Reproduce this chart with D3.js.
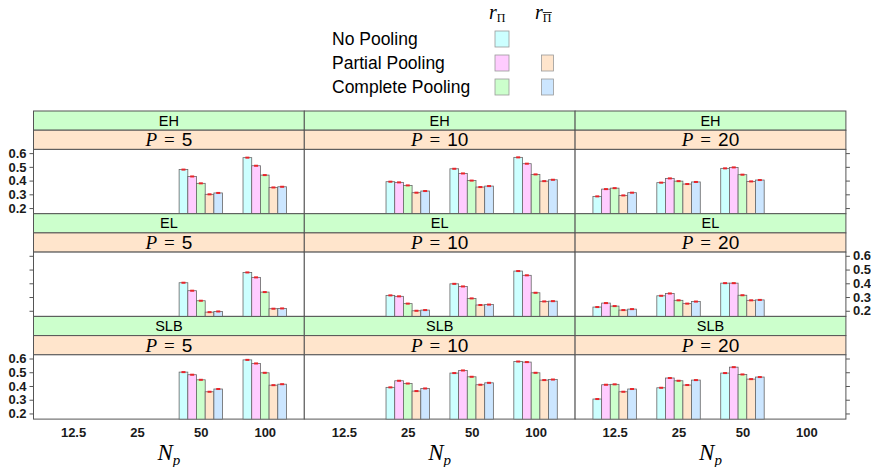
<!DOCTYPE html>
<html>
<head>
<meta charset="utf-8">
<script src="https://cdn.jsdelivr.net/npm/d3@7"></script>
<style>
  body { margin: 0; background: #fff; }
</style>
</head>
<body>
<div id="chart"></div>
<script>
// data
const npLabels = ["12.5", "25", "50", "100"];
const sets = ["EH", "EL", "SLB"];
const pValues = [5, 10, 20];
const seriesNames = ["NP r", "PP r", "CP r", "PP rbar", "CP rbar"];
const seriesColors = ["#ccffff", "#ffccff", "#ccffcc", "#ffe5cc", "#cce6ff"];
const yTicks = [0.2, 0.3, 0.4, 0.5, 0.6];

// values[set][P] -> per Np group, 5 bars (null = no bars)
const EH_5  = [null, null, [0.48, 0.43, 0.38, 0.30, 0.31], [0.567, 0.508, 0.44, 0.35, 0.355]];
const EH_10 = [null, [0.392, 0.387, 0.365, 0.312, 0.324], [0.486, 0.452, 0.40, 0.353, 0.36], [0.569, 0.523, 0.445, 0.396, 0.406]];
const EH_20 = [[0.285, 0.338, 0.345, 0.292, 0.312], [0.385, 0.416, 0.396, 0.375, 0.39], [0.489, 0.496, 0.443, 0.394, 0.404], null];
const EL_5  = [null, null, [0.404, 0.346, 0.273, 0.19, 0.195], [0.479, 0.443, 0.336, 0.215, 0.217]];
const EL_10 = [null, [0.312, 0.305, 0.252, 0.20, 0.205], [0.396, 0.377, 0.29, 0.242, 0.245], [0.489, 0.458, 0.331, 0.268, 0.27]];
const EL_20 = [[0.227, 0.256, 0.234, 0.205, 0.212], [0.309, 0.326, 0.276, 0.252, 0.267], [0.401, 0.401, 0.313, 0.276, 0.279], null];
const SLB_5  = [null, null, [0.501, 0.482, 0.445, 0.358, 0.378], [0.59, 0.564, 0.496, 0.406, 0.413]];
const SLB_10 = [null, [0.39, 0.438, 0.418, 0.363, 0.382], [0.494, 0.513, 0.467, 0.409, 0.423], [0.578, 0.574, 0.496, 0.443, 0.447]];
const SLB_20 = [[0.305, 0.409, 0.412, 0.358, 0.378], [0.387, 0.458, 0.438, 0.407, 0.443], [0.494, 0.537, 0.484, 0.45, 0.465], null];

const values = [[EH_5, EH_10, EH_20], [EL_5, EL_10, EL_20], [SLB_5, SLB_10, SLB_20]];

const W = 871, H = 467;
const leftX = 33.5, colW = 270.8, topY = 111;
const stripH = 19.2, panelH = 64.3, rowH = 2 * stripH + panelH;
const border = "#555";
const SANS = "'Liberation Sans', Arial, sans-serif";
const SERIF = "'Latin Modern Roman', 'CMU Serif', 'DejaVu Serif', 'Liberation Serif', serif";
const SERIF_I = "'Liberation Serif', serif";

const svg = d3.select("#chart").append("svg")
  .attr("width", W).attr("height", H)
  .style("font-family", SANS);
svg.append("rect").attr("width", W).attr("height", H).attr("fill", "#fff");

const x = d3.scalePoint().domain(npLabels).range([0, colW]).padding(0.619);
const inner = d3.scaleBand().domain(d3.range(seriesNames.length))
  .range([-0.34 * x.step(), 0.34 * x.step()]).padding(0);
const y = d3.scaleLinear().domain([0.159, 0.627]).range([panelH, 0]);

function styleTicks(a) {
  a.select(".domain").remove();
  a.selectAll("line").attr("stroke", border);
  a.selectAll("text").style("font-size", "13px").style("font-weight", "bold")
    .attr("fill", "#1a1a1a").style("font-family", SANS)
    .attr("transform", null);
}

sets.forEach((set, r) => {
  pValues.forEach((p, c) => {
    const gx = leftX + c * colW, gy = topY + r * rowH;
    const g = svg.append("g").attr("transform", `translate(${gx},${gy})`);

    // strips
    g.append("rect").attr("width", colW).attr("height", stripH)
      .attr("fill", "#ccffcc").attr("stroke", border).attr("stroke-width", 1);
    g.append("text").attr("x", colW / 2).attr("y", stripH / 2 + 5)
      .attr("text-anchor", "middle").style("font-size", "14.5px").text(set);

    g.append("rect").attr("y", stripH).attr("width", colW).attr("height", stripH)
      .attr("fill", "#ffe5cc").attr("stroke", border).attr("stroke-width", 1);
    const pt = g.append("text").attr("x", colW / 2).attr("y", stripH * 1.5 + 6.5)
      .attr("text-anchor", "middle").style("font-size", "19px");
    pt.append("tspan").style("font-family", SERIF_I).style("font-style", "italic").text("P");
    pt.append("tspan").style("font-family", SERIF_I).attr("dx", 7).text("=");
    pt.append("tspan").attr("dx", 7).text(p);

    // panel
    const pg = g.append("g").attr("transform", `translate(0,${2 * stripH})`);
    pg.append("rect").attr("width", colW).attr("height", panelH)
      .attr("fill", "#fff").attr("stroke", border).attr("stroke-width", 1);

    const groups = values[r][c];
    groups.forEach((grp, i) => {
      if (!grp) return;
      const cx = x(npLabels[i]);
      grp.forEach((v, s) => {
        pg.append("rect")
          .attr("x", cx + inner(s)).attr("y", y(v))
          .attr("width", inner.bandwidth()).attr("height", panelH - y(v))
          .attr("fill", seriesColors[s]).attr("stroke", "#666").attr("stroke-width", 0.8);
        pg.append("rect")
          .attr("x", cx + inner(s) + inner.bandwidth() / 2 - 2).attr("y", y(v) - 1)
          .attr("width", 4).attr("height", 2).attr("fill", "#e8242a");
      });
    });

    // y axis: labels left on rows 0/2, right on row 1; ticks on both outer sides
    const leftLabels = r !== 1;
    if (c === 0) {
      const ax = d3.axisLeft(y).tickValues(yTicks).tickSize(4).tickPadding(3)
        .tickFormat(leftLabels ? d3.format(".1f") : () => "");
      styleTicks(pg.append("g").call(ax));
    }
    if (c === 2) {
      const ax = d3.axisRight(y).tickValues(yTicks).tickSize(4).tickPadding(3)
        .tickFormat(!leftLabels ? d3.format(".1f") : () => "");
      styleTicks(pg.append("g").attr("transform", `translate(${colW},0)`).call(ax));
    }

    // x axis labels on bottom row
    if (r === sets.length - 1) {
      const ax = d3.axisBottom(x).tickSize(0).tickPadding(9);
      styleTicks(pg.append("g").attr("transform", `translate(0,${panelH})`).call(ax));

      const nt = pg.append("text").attr("x", colW / 2).attr("y", panelH + 41)
        .attr("text-anchor", "middle").style("font-family", SERIF_I)
        .style("font-style", "italic").style("font-size", "23px");
      nt.append("tspan").text("N");
      nt.append("tspan").style("font-size", "15px").attr("dy", 5).text("p");
    }
  });
});

// legend
const legendRows = ["No Pooling", "Partial Pooling", "Complete Pooling"];
const legendCol1 = [0, 1, 2];      // series index for r_Pi
const legendCol2 = [null, 3, 4];   // series index for r_Pibar
const lg = svg.append("g");
legendRows.forEach((name, i) => {
  const by = 45 + i * 24;
  lg.append("text").attr("x", 332).attr("y", by).style("font-size", "17.5px").text(name);
  lg.append("rect").attr("x", 495).attr("y", by - 14).attr("width", 14).attr("height", 16)
    .attr("fill", seriesColors[legendCol1[i]]).attr("stroke", "#999").attr("stroke-width", 0.8);
  if (legendCol2[i] !== null) {
    lg.append("rect").attr("x", 541.5).attr("y", by - 14).attr("width", 12).attr("height", 16)
      .attr("fill", seriesColors[legendCol2[i]]).attr("stroke", "#999").attr("stroke-width", 0.8);
  }
});
const h1 = lg.append("text").attr("x", 489).attr("y", 19)
  .style("font-family", SERIF_I).style("font-size", "20px");
h1.append("tspan").style("font-style", "italic").text("r");
h1.append("tspan").style("font-size", "12px").attr("dy", 3).text("Π");
const h2 = lg.append("text").attr("x", 535).attr("y", 19)
  .style("font-family", SERIF_I).style("font-size", "20px");
h2.append("tspan").style("font-style", "italic").text("r");
const pib = h2.append("tspan").style("font-size", "12px").attr("dy", 3).text("Π");
const bb = pib.node().getBBox();
lg.append("line").attr("x1", bb.x).attr("x2", bb.x + bb.width)
  .attr("y1", bb.y + 1.5).attr("y2", bb.y + 1.5).attr("stroke", "#111").attr("stroke-width", 0.9);
</script>
</body>
</html>
